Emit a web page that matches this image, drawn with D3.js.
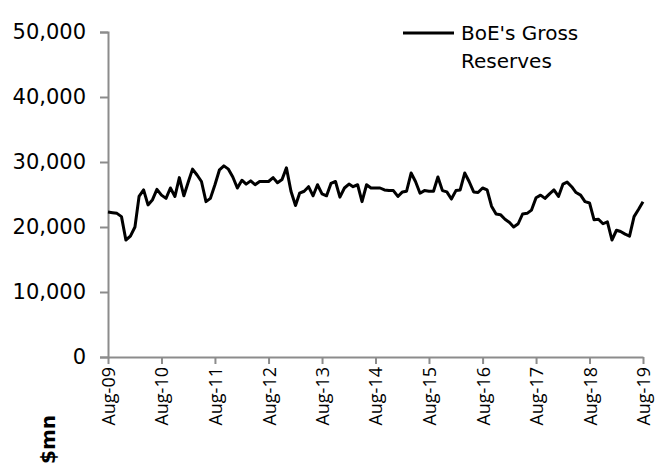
<!DOCTYPE html>
<html>
<head>
<meta charset="utf-8">
<script src="https://cdn.jsdelivr.net/npm/d3@7"></script>
<style>
  body { margin: 0; background: #fff; }
  svg { display: block; font-family: "DejaVu Sans", Verdana, sans-serif; }
</style>
</head>
<body>
<div id="chart-area"></div>
<script>
// monthly BoE gross reserves, $mn, Aug-09 .. Aug-19
var startMonth = "2009-08";
var reserves = [
  22300, 22200, 22100, 21600, 18000, 18600, 20000, 24700, 25700, 23400,
  24200, 25800, 24900, 24400, 26000, 24700, 27600, 24800, 27000, 28900,
  28000, 27000, 23900, 24400, 26500, 28800, 29400, 28900, 27700, 26000,
  27200, 26600, 27100, 26500, 27000, 27000, 27000, 27600, 26800, 27300,
  29100, 25500, 23300, 25200, 25500, 26200, 24800, 26500, 25100, 24800,
  26700, 27000, 24600, 26000, 26600, 26200, 26500, 23900, 26500, 26000,
  26000, 26000, 25700, 25600, 25600, 24700, 25400, 25500, 28300, 27000,
  25200, 25600, 25500, 25500, 27700, 25600, 25400, 24300, 25600, 25700,
  28300, 27000, 25400, 25300, 26000, 25700, 23200, 22000, 21900, 21200,
  20700, 20000, 20500, 22000, 22100, 22600, 24500, 24900, 24400, 25100,
  25700, 24700, 26600, 26900, 26200, 25300, 24900, 23900, 23700, 21100,
  21200, 20500, 20800, 18000, 19500, 19300, 18900, 18600, 21600, 22700,
  23900
];
var yTicks = [0, 10000, 20000, 30000, 40000, 50000];
var seriesName = ["BoE's Gross", "Reserves"];
var unitLabel = "$mn";

var W = 656, H = 464;
var margin = { left: 108, right: 13, top: 32, bottom: 107 };
var width = W - margin.left - margin.right,
    height = H - margin.top - margin.bottom;

var parseMonth = d3.timeParse("%Y-%m");
var t0 = parseMonth(startMonth);
var data = reserves.map(function(v, i) {
  return { date: d3.timeMonth.offset(t0, i), value: v };
});

var svg = d3.select("#chart-area").append("svg")
    .attr("width", W)
    .attr("height", H);

var g = svg.append("g")
    .attr("transform", "translate(" + margin.left + "," + margin.top + ")");

var x = d3.scaleTime()
    .domain([t0, d3.timeMonth.offset(t0, 120)])
    .range([0, width]);

var y = d3.scaleLinear()
    .domain([0, 50000])
    .range([height, 0]);

var axisColor = "#8c8c8c";

// y axis
var yAxis = g.append("g")
    .call(d3.axisLeft(y).tickValues(yTicks).tickSize(8).tickPadding(14)
        .tickFormat(d3.format(",")));
yAxis.select(".domain").attr("stroke", axisColor).attr("stroke-width", 2);
yAxis.selectAll(".tick line").attr("stroke", axisColor).attr("stroke-width", 2);
yAxis.selectAll(".tick text")
    .attr("font-size", 21)
    .attr("font-family", "DejaVu Sans")
    .attr("fill", "#000");

// x axis
var xTicks = d3.range(0, 11).map(function(i) { return d3.timeYear.offset(t0, i); });
var xAxis = g.append("g")
    .attr("transform", "translate(0," + height + ")")
    .call(d3.axisBottom(x).tickValues(xTicks).tickSize(7).tickSizeOuter(0)
        .tickFormat(d3.timeFormat("%b-%y")));
xAxis.select(".domain").attr("stroke", axisColor).attr("stroke-width", 2);
xAxis.selectAll(".tick line").attr("stroke", axisColor).attr("stroke-width", 2);
xAxis.selectAll(".tick text")
    .attr("font-size", 18)
    .attr("font-family", "Open Sans")
    .attr("fill", "#000")
    .attr("text-anchor", "end")
    .attr("transform", "rotate(-90)")
    .attr("x", -10)
    .attr("y", 0)
    .attr("dy", "0.36em");

// series line
var line = d3.line()
    .x(function(d) { return x(d.date); })
    .y(function(d) { return y(d.value); });

g.append("path")
    .datum(data)
    .attr("fill", "none")
    .attr("stroke", "#000")
    .attr("stroke-width", 3)
    .attr("stroke-linejoin", "round")
    .attr("d", line);

// legend
var legend = svg.append("g").attr("transform", "translate(403,33)");
legend.append("line")
    .attr("x1", 0).attr("x2", 51)
    .attr("stroke", "#000").attr("stroke-width", 3);
legend.selectAll("text")
    .data(seriesName)
    .enter().append("text")
    .attr("x", 58)
    .attr("y", function(d, i) { return 7 + i * 28; })
    .attr("font-size", 20)
    .attr("fill", "#000")
    .text(function(d) { return d; });

// unit label
svg.append("text")
    .attr("transform", "translate(55,464) rotate(-90)")
    .attr("font-size", 20)
    .attr("font-weight", "bold")
    .attr("fill", "#000")
    .text(unitLabel);
</script>
</body>
</html>
